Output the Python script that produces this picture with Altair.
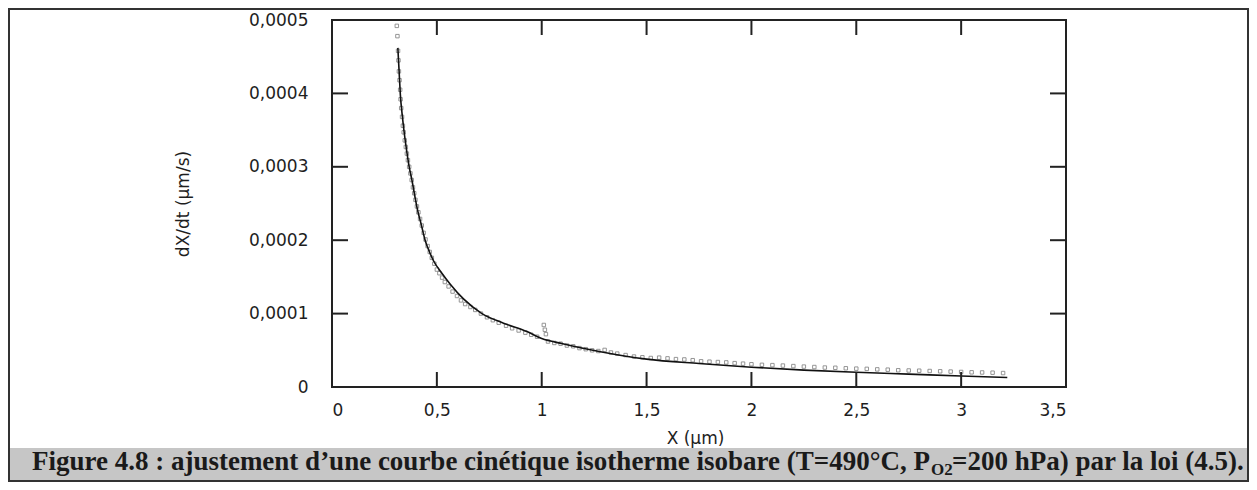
import altair as alt
import pandas as pd

# ---- data ----
fit_x = [0.314, 0.320, 0.326, 0.335, 0.345, 0.357, 0.368, 0.381, 0.395, 0.408,
         0.425, 0.444, 0.465, 0.484, 0.524, 0.564, 0.627, 0.715, 0.818, 0.930,
         1.00, 1.10, 1.28, 1.50, 1.75, 2.00, 2.25, 2.50, 2.75, 3.00, 3.22]
fit_y = [0.000462, 0.000430, 0.000398, 0.000370, 0.000345, 0.000320, 0.000300, 0.000282, 0.000260, 0.000241,
         0.000222, 0.000200, 0.000184, 0.000172, 0.000155, 0.000140, 0.000120, 0.000100, 0.0000870, 0.0000755,
         0.0000660, 0.0000590, 0.0000480, 0.0000380, 0.0000320, 0.0000270, 0.0000230, 0.0000200, 0.0000175, 0.0000150, 0.0000130]

pts_x = [0.309, 0.312, 0.315, 0.317, 0.319, 0.322, 0.325, 0.327, 0.330, 0.334,
         0.338, 0.342, 0.347, 0.352, 0.357, 0.362, 0.368, 0.374, 0.380, 0.386,
         0.392, 0.398, 0.405, 0.412, 0.420, 0.428, 0.437, 0.446, 0.456, 0.466,
         0.476, 0.488, 0.500, 0.512, 0.525, 0.538, 0.556, 0.575, 0.596, 0.615,
         0.635, 0.660, 0.683, 0.710, 0.739, 0.767, 0.795, 0.830, 0.859, 0.890,
         0.922, 0.950, 0.978, 1.010, 1.015, 1.020, 1.030, 1.060, 1.090, 1.120,
         1.150, 1.180, 1.210, 1.240, 1.270, 1.300, 1.330, 1.360, 1.400, 1.440,
         1.480, 1.520, 1.560, 1.600, 1.640, 1.680, 1.720, 1.760, 1.800, 1.840,
         1.880, 1.920, 1.960, 2.000, 2.050, 2.100, 2.150, 2.200, 2.250, 2.300,
         2.350, 2.400, 2.450, 2.500, 2.550, 2.600, 2.650, 2.700, 2.750, 2.800,
         2.850, 2.900, 2.950, 3.000, 3.050, 3.100, 3.150, 3.200]
pts_y = [0.000492, 0.000478, 0.000458, 0.000445, 0.000430, 0.000418, 0.000405, 0.000392, 0.000380, 0.000368,
         0.000356, 0.000347, 0.000336, 0.000327, 0.000318, 0.000309, 0.000300, 0.000291, 0.000282, 0.000272,
         0.000264, 0.000255, 0.000246, 0.000238, 0.000229, 0.000220, 0.000210, 0.000201, 0.000192, 0.000184,
         0.000176, 0.000168, 0.000160, 0.000155, 0.000149, 0.000143, 0.000137, 0.000130, 0.000124, 0.000118,
         0.000113, 0.000109, 0.000105, 0.000100, 0.0000950, 0.0000910, 0.0000876, 0.0000835, 0.0000800, 0.0000770,
         0.0000740, 0.0000712, 0.0000685, 0.0000845, 0.0000780, 0.0000720, 0.0000620, 0.0000600, 0.0000590, 0.0000565,
         0.0000555, 0.0000530, 0.0000515, 0.0000500, 0.0000490, 0.0000505, 0.0000470, 0.0000455, 0.0000435, 0.0000415,
         0.0000405, 0.0000395, 0.0000400, 0.0000390, 0.0000380, 0.0000375, 0.0000365, 0.0000350, 0.0000345, 0.0000340,
         0.0000335, 0.0000325, 0.0000318, 0.0000310, 0.0000302, 0.0000298, 0.0000292, 0.0000285, 0.0000278, 0.0000272,
         0.0000265, 0.0000262, 0.0000255, 0.0000250, 0.0000247, 0.0000240, 0.0000236, 0.0000228, 0.0000225, 0.0000222,
         0.0000218, 0.0000214, 0.0000210, 0.0000205, 0.0000200, 0.0000198, 0.0000195, 0.0000190]

x_label_values = [0, 0.5, 1, 1.5, 2, 2.5, 3, 3.5]
y_label_values = [0, 0.0001, 0.0002, 0.0003, 0.0004, 0.0005]
x_inner_ticks = [0.5, 1.0, 1.5, 2.0, 2.5, 3.0]
y_inner_ticks = [0.0001, 0.0002, 0.0003, 0.0004]

x_title = "X (µm)"
y_title = "dX/dt (µm/s)"
caption_main = "Figure 4.8 : ajustement d’une courbe cinétique isotherme isobare (T=490°C, P"
caption_sub = "O2"
caption_end = "=200 hPa) par la loi (4.5)."

# ---- chart ----
W, H = 734, 367
LABEL_FONT = "DejaVu Sans"
CAP_FONT = "Liberation Serif"

xs = alt.Scale(domain=[0, 3.5], nice=False, zero=False)
ys = alt.Scale(domain=[0, 0.0005], nice=False, zero=False)

xaxis = alt.Axis(values=x_label_values, ticks=False, tickSize=0, domain=False, grid=False,
                 labelExpr="replace(toString(datum.value), '.', ',')",
                 labelFont=LABEL_FONT, labelFontSize=17, labelColor="#1e1e1e", labelPadding=15,
                 title=x_title, titleFont=LABEL_FONT, titleFontSize=17, titleFontWeight="normal",
                 titleColor="#1e1e1e", titleX=363, titleY=51, titleAlign="center", titleBaseline="middle")
yaxis = alt.Axis(values=y_label_values, ticks=False, tickSize=0, domain=False, grid=False,
                 labelExpr="datum.value == 0 ? '0' : replace(format(datum.value, '.4f'), '.', ',')",
                 labelFont=LABEL_FONT, labelFontSize=17, labelColor="#1e1e1e", labelPadding=24,
                 title=y_title, titleFont=LABEL_FONT, titleFontSize=17, titleFontWeight="normal",
                 titleColor="#1e1e1e", titleX=-149, titleY=H / 2, titleAngle=270,
                 titleAlign="center", titleBaseline="middle")

xenc = alt.X("x:Q", scale=xs, axis=xaxis)
yenc = alt.Y("y:Q", scale=ys, axis=yaxis)

pts_df = pd.DataFrame({"x": pts_x, "y": pts_y})
fit_df = pd.DataFrame({"x": fit_x, "y": fit_y})
xt_df = pd.DataFrame({"x": x_inner_ticks})
yt_df = pd.DataFrame({"y": y_inner_ticks})
one = pd.DataFrame({"k": [0]})

band = alt.Chart(one).mark_rect(color="#c6c6c6").encode(
    x=alt.value(-323), x2=alt.value(916), y=alt.value(428), y2=alt.value(462))
border = alt.Chart(one).mark_rect(fillOpacity=0, stroke="#333", strokeWidth=2).encode(
    x=alt.value(-323), x2=alt.value(916), y=alt.value(-11), y2=alt.value(461))

points = alt.Chart(pts_df).mark_point(shape="square", filled=False, size=12,
                                      color="#8a8a8a", strokeWidth=0.9, opacity=1).encode(x=xenc, y=yenc)
fit = alt.Chart(fit_df).mark_line(color="#111", strokeWidth=1.6, interpolate="monotone").encode(x=xenc, y=yenc)

tick_style = dict(color="#222", strokeWidth=2)
xt_bottom = alt.Chart(xt_df).mark_rule(**tick_style).encode(x=xenc, y=alt.value(H), y2=alt.value(H - 15))
xt_top = alt.Chart(xt_df).mark_rule(**tick_style).encode(x=xenc, y=alt.value(0), y2=alt.value(15))
yt_left = alt.Chart(yt_df).mark_rule(**tick_style).encode(y=yenc, x=alt.value(0), x2=alt.value(16))
yt_right = alt.Chart(yt_df).mark_rule(**tick_style).encode(y=yenc, x=alt.value(W), x2=alt.value(W - 16))

cap_common = dict(font=CAP_FONT, fontWeight="bold", color="#1a1a1a", baseline="alphabetic")
cap1 = alt.Chart(one).mark_text(align="right", fontSize=27, **cap_common).encode(
    x=alt.value(598), y=alt.value(450), text=alt.value(caption_main))
cap2 = alt.Chart(one).mark_text(align="left", fontSize=17, **cap_common).encode(
    x=alt.value(599), y=alt.value(455), text=alt.value(caption_sub))
cap3 = alt.Chart(one).mark_text(align="left", fontSize=27, **cap_common).encode(
    x=alt.value(620), y=alt.value(450), text=alt.value(caption_end))

chart = alt.layer(band, border, points, fit, xt_bottom, xt_top, yt_left, yt_right, cap1, cap2, cap3).properties(
    width=W, height=H,
    autosize=alt.AutoSizeParams(type="none"),
    padding={"left": 324, "top": 12, "right": 183, "bottom": 95},
    background="white",
).configure_view(stroke="#222", strokeWidth=2)

chart.save("out.html", embed_options={"renderer": "svg", "actions": False})
